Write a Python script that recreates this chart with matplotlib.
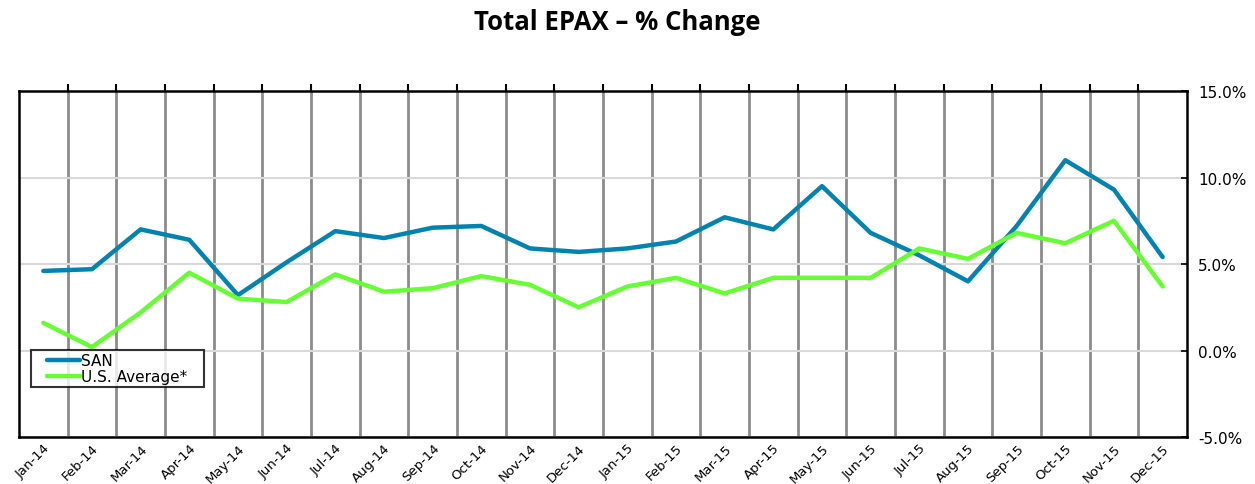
import matplotlib.pyplot as plt
import numpy as np
from matplotlib.legend_handler import HandlerLine2D
from matplotlib.lines import Line2D

months = ["Jan-14", "Feb-14", "Mar-14", "Apr-14", "May-14", "Jun-14",
          "Jul-14", "Aug-14", "Sep-14", "Oct-14", "Nov-14", "Dec-14",
          "Jan-15", "Feb-15", "Mar-15", "Apr-15", "May-15", "Jun-15",
          "Jul-15", "Aug-15", "Sep-15", "Oct-15", "Nov-15", "Dec-15"]

san = [4.6, 4.7, 7.0, 6.4, 3.2, 5.1, 6.9, 6.5, 7.1, 7.2, 5.9, 5.7,
       5.9, 6.3, 7.7, 7.0, 9.5, 6.8, 5.5, 4.0, 7.2, 11.0, 9.3, 5.4]

us_avg = [1.6, 0.2, 2.2, 4.5, 3.0, 2.8, 4.4, 3.4, 3.6, 4.3, 3.8, 2.5,
          3.7, 4.2, 3.3, 4.2, 4.2, 4.2, 5.9, 5.3, 6.8, 6.2, 7.5, 3.7]

yticks = [-5, 0, 5, 10, 15]


def main():
    plt.rcParams["font.family"] = ["DejaVu Sans"]

    fig = plt.figure(figsize=(12.55, 4.85), dpi=100)
    ax = fig.add_axes([0.0151, 0.0969, 0.9307, 0.7134])

    x = np.arange(len(months)) + 0.5
    ax.plot(x, san, color="#0083b0", lw=3.2, label="SAN", solid_capstyle="round")
    ax.plot(x, us_avg, color="#66ff33", lw=3.2, label="U.S. Average*", solid_capstyle="round")

    ax.set_xlim(0, len(months))
    ax.set_ylim(yticks[0], yticks[-1])

    # category labels at centres, boundaries as minor ticks / grid
    ax.set_xticks(x)
    ax.set_xticklabels(months, rotation=45, ha="right", rotation_mode="anchor", fontsize=9.5)
    ax.set_xticks(np.arange(1, len(months)), minor=True)
    ax.tick_params(axis="x", which="major", length=0, pad=3)
    ax.tick_params(axis="x", which="minor", top=True, bottom=False, length=5,
                   width=1.5, direction="out", color="black")
    ax.grid(axis="x", which="minor", color="#8c8c8c", lw=2)

    ax.yaxis.tick_right()
    ax.set_yticks(yticks)
    ax.set_yticklabels([f"{v:.1f}%" for v in yticks], fontsize=11)
    ax.tick_params(axis="y", direction="in", length=4, width=1.2, pad=8)
    ax.grid(axis="y", color="#d9d9d9", lw=1.5)
    ax.set_axisbelow(True)

    for side in ("left", "bottom", "top", "right"):
        ax.spines[side].set_color("black")
        ax.spines[side].set_linewidth(1.8)

    leg = ax.legend(loc="upper left", bbox_to_anchor=(0.0103, 0.142, 0.148, 0.11),
                    mode="expand", fontsize=11,
                    frameon=True, fancybox=False, edgecolor="black",
                    handlelength=3.0, handletextpad=0.1, borderpad=0.2,
                    labelspacing=0.1, borderaxespad=0,
                    handler_map={Line2D: HandlerLine2D(xpad=0.85)})
    leg.get_frame().set_linewidth(1.5)

    fig.text(0.492, 1 - 22 / 485, "Total EPAX \u2013 % Change", ha="center",
             va="center", fontsize=18.5, fontweight="bold", family="Open Sans")

    fig.savefig("out.png", dpi=100)


if __name__ == "__main__":
    main()
